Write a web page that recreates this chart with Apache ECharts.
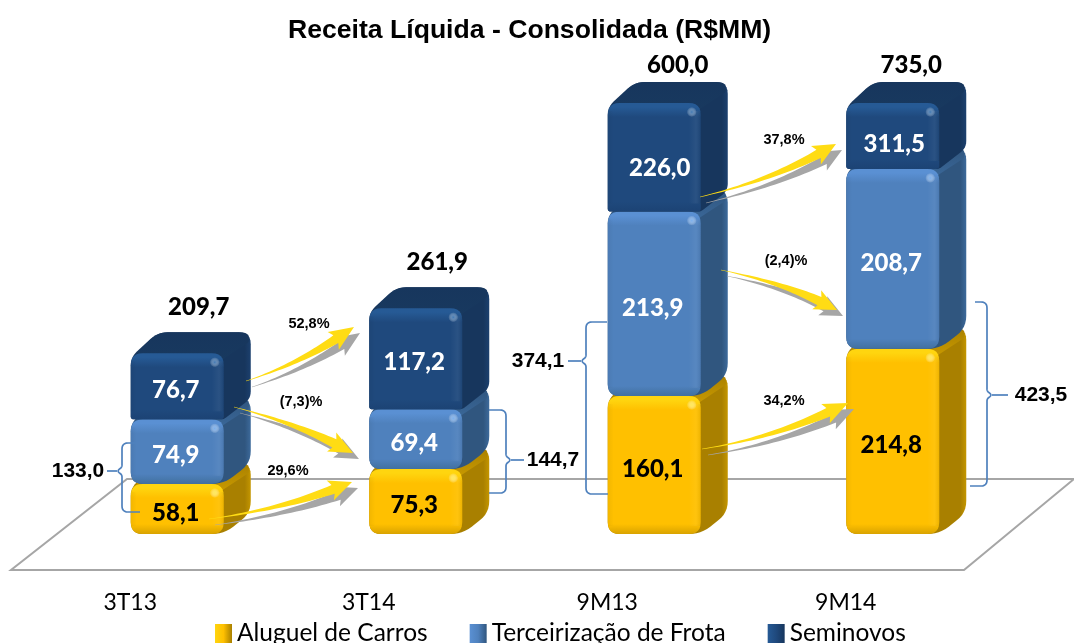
<!DOCTYPE html>
<html>
<head>
<meta charset="utf-8">
<style>html,body{margin:0;padding:0;background:#fff}#c{width:1074px;height:643px}</style>
<script src="https://cdn.jsdelivr.net/npm/echarts@6/dist/echarts.min.js"></script>
</head>
<body>
<div id="c"></div>
<script>
var categories = ['3T13', '3T14', '9M13', '9M14'];
var aluguel = [58.1, 75.3, 160.1, 214.8];
var terceirizacao = [74.9, 69.4, 213.9, 208.7];
var seminovos = [76.7, 117.2, 226.0, 311.5];
var totals = [209.7, 261.9, 600.0, 735.0];
var seriesNames = ['Aluguel de Carros', 'Terceirização de Frota', 'Seminovos'];
var growthLabels = ['52,8%', '(7,3)%', '29,6%', '37,8%', '(2,4)%', '34,2%'];
var sideTotals = ['133,0', '144,7', '374,1', '423,5'];
var titleText = 'Receita Líquida - Consolidada (R$MM)';

var AXIS_MAX = 500;
var DEPTH_X = 27, DEPTH_Y = 21, FRONT_RATIO = 0.39;
var palettes = [
  {base:'#FFC000', hi:'#FFD50F', lo:'#D9A300', side:'#A98000', rim:'#C49600', top:'#C99A00', spot:'#FFEA55', text:'#000', bottomR:12},
  {base:'#4F81BD', hi:'#5A90D3', lo:'#41709F', side:'#30567F', rim:'#3D6A9B', top:'#3A6798', spot:'#78AEEE', text:'#fff', bottomR:12},
  {base:'#1F497D', hi:'#265A95', lo:'#1C4374', side:'#17365D', rim:'#1C406E', top:'#18395F', spot:'#3D76B2', text:'#fff', bottomR:3}
];
var clippedLabelShift = {2:[7, 7], 3:[3, 4]};
var totalShift = [0, 0, 2, -3];
var fmt = function (v) { return v.toFixed(1).replace('.', ','); };

function roundPoly(pts, radii) {
  var out = [], n = pts.length;
  for (var i = 0; i < n; i++) {
    var p = pts[i], a = pts[(i + n - 1) % n], b = pts[(i + 1) % n];
    var r = Array.isArray(radii) ? radii[i] : radii;
    var la = Math.hypot(a[0] - p[0], a[1] - p[1]), lb = Math.hypot(b[0] - p[0], b[1] - p[1]);
    var ra = Math.min(r, la / 2), rb = Math.min(r, lb / 2);
    var s = [p[0] + (a[0] - p[0]) * ra / la, p[1] + (a[1] - p[1]) * ra / la];
    var e = [p[0] + (b[0] - p[0]) * rb / lb, p[1] + (b[1] - p[1]) * rb / lb];
    for (var k = 0; k <= 6; k++) {
      var t = k / 6, u = 1 - t;
      out.push([u * u * s[0] + 2 * u * t * p[0] + t * t * e[0], u * u * s[1] + 2 * u * t * p[1] + t * t * e[1]]);
    }
  }
  return out;
}
function grad(x2, y2, stops) {
  return {type:'linear', x:0, y:0, x2:x2, y2:y2, colorStops:stops.map(function (s) { return {offset:s[0], color:s[1]}; })};
}
function blockRenderer(pal) {
  return function (params, api) {
    var i = api.value(0), lo = api.value(1), hi = Math.min(api.value(2), AXIS_MAX), val = api.value(3), total = api.value(4);
    var bottom = api.coord([i, lo]), top = api.coord([i, hi]);
    var w = api.size([1, 0])[0] * FRONT_RATIO;
    var x0 = bottom[0] + 0.5, x1 = x0 + w, yb = bottom[1], yt = top[1], h = yb - yt;
    var d = DEPTH_X, dy = DEPTH_Y, br = pal.bottomR;
    var kids = [];
    var sil = roundPoly([[x0, yt + 4], [x0 + d, yt - dy], [x1 + d, yt - dy], [x1 + d, yb - dy], [x1, yb], [x0, yb]], [8, 10, 12, Math.max(br, 7), br, br]);
    kids.push({type:'polygon', shape:{points:sil}, style:{fill:grad(1, 0, [[0, pal.side], [0.95, pal.side], [1, pal.rim]]), stroke:'none'}});
    kids.push({type:'polygon', shape:{points:roundPoly([[x0, yt + 6], [x0 + d, yt - dy], [x1 + d - 2, yt - dy], [x1 + d - 2, yt - dy + 10], [x1 - 4, yt + 8]], [5, 10, 10, 2, 2])},
      style:{fill:grad(0, 1, [[0, pal.side], [1, pal.top]])}});
    var t1 = Math.min(0.45, 4 / h), t2 = Math.min(0.48, 14 / h), t3 = Math.max(0.52, 1 - 10 / h);
    var front = roundPoly([[x0, yt], [x1, yt], [x1, yb], [x0, yb]], [12, 12, br, br]);
    kids.push({type:'polygon', shape:{points:front}, style:{fill:grad(0, 1, [[0, pal.hi], [t1, pal.hi], [t2, pal.base], [t3, pal.base], [1, pal.lo]])}});
    kids.push({type:'rect', shape:{x:x1 - 12, y:yt + 8, width:12, height:Math.max(0, h - 16)}, style:{fill:grad(1, 0, [[0, 'rgba(255,255,255,0)'], [0.6, 'rgba(255,255,255,0.05)'], [1, 'rgba(0,0,0,0.07)']])}});
    kids.push({type:'rect', shape:{x:x0, y:yt + 8, width:6, height:Math.max(0, h - 16)}, style:{fill:grad(1, 0, [[0, 'rgba(0,0,0,0.05)'], [1, 'rgba(0,0,0,0)']])}});
    kids.push({type:'circle', shape:{cx:x1 - 9, cy:yt + 9, r:5}, style:{fill:{type:'radial', x:0.5, y:0.5, r:0.5, colorStops:[{offset:0, color:pal.spot}, {offset:1, color:'rgba(255,255,255,0)'}]}}});
    var shift = (api.value(2) > AXIS_MAX && clippedLabelShift[i]) || [0, 0];
    kids.push({type:'text', style:{x:(x0 + x1) / 2 - 1.5 + shift[0], y:(yt + yb) / 2 + 4 + shift[1], text:fmt(val), fill:pal.text, font:'900 24px Lato', textAlign:'center', textVerticalAlign:'middle'}});
    if (total) {
      var clipped = total > AXIS_MAX;
      kids.push({type:'text', style:{x:x0 + 68 + totalShift[i], y:yt - dy - (clipped ? 17 : 25), text:fmt(total), fill:'#000', font:'900 24px Lato', textAlign:'center', textVerticalAlign:'middle'}});
    }
    return {type:'group', children:kids};
  };
}
function stackData(k) {
  var stacks = [aluguel, terceirizacao, seminovos];
  return categories.map(function (c, i) {
    var base = 0;
    for (var j = 0; j < k; j++) base += stacks[j][i];
    return [i, base, base + stacks[k][i], stacks[k][i], k === 2 ? totals[i] : 0];
  });
}
function floorRenderer(params, api) {
  var a = api.coord([0, 0]);
  var L = 11, R = 964, F = a[1] + 36, B = a[1] - 55;
  return {type:'polygon', shape:{points:[[L, F], [R, F], [R + 110, B], [L + 116, B]]}, style:{fill:'none', stroke:'#A6A6A6', lineWidth:2}};
}
function arrow(p0, c, p1, fill, off) {
  var L = 22, HW = 10.5, SW = 4.4, q = function (t, k) { var u = 1 - t; return u * u * p0[k] + 2 * u * t * c[k] + t * t * p1[k]; };
  var len = Math.hypot(p1[0] - p0[0], p1[1] - p0[1]), tb = 1 - L / len;
  var left = [], right = [], N = 24;
  for (var i = 0; i <= N; i++) {
    var t = tb * i / N, x = q(t, 0), y = q(t, 1);
    var dx = 2 * (1 - t) * (c[0] - p0[0]) + 2 * t * (p1[0] - c[0]), dy = 2 * (1 - t) * (c[1] - p0[1]) + 2 * t * (p1[1] - c[1]);
    var m = Math.hypot(dx, dy), nx = -dy / m, ny = dx / m, w = 0.2 + SW * Math.pow(i / N, 1.3);
    left.push([x + nx * w + off[0], y + ny * w + off[1]]);
    right.unshift([x - nx * w + off[0], y - ny * w + off[1]]);
    if (i === N) {
      var bx = x + off[0], by = y + off[1], ux = dx / m, uy = dy / m;
      left.push([bx + nx * HW - ux * 3, by + ny * HW - uy * 3]);
      left.push([p1[0] + off[0], p1[1] + off[1]]);
      left.push([bx - nx * HW - ux * 3, by - ny * HW - uy * 3]);
    }
  }
  return {type:'polygon', z:100, shape:{points:left.concat(right)}, style:{fill:fill}};
}
function brace(xTop, yTop, xSpine, yMid, xTip, yBot, xBot) {
  var s = xTip < xSpine ? -1 : 1;
  var pts = roundPoly([[xTop, yTop], [xSpine, yTop], [xSpine, yMid - 4], [xSpine + s * 5, yMid], [xSpine, yMid + 4], [xSpine, yBot], [xBot, yBot]], [0, 6, 2, 3, 2, 6, 0]).slice(3, -3);
  return [
    {type:'polyline', z:100, shape:{points:pts}, style:{stroke:'#4F81BD', lineWidth:1.7, fill:'none'}},
    {type:'line', z:100, shape:{x1:xSpine + s * 5, y1:yMid, x2:xTip, y2:yMid}, style:{stroke:'#4F81BD', lineWidth:1.7}}
  ];
}
function label(txt, x, y, size) {
  return {type:'text', z:101, style:{x:x, y:y, text:txt, fill:'#000', font:'bold ' + size + 'px "Liberation Sans"', textAlign:'center', textVerticalAlign:'middle'}};
}
var YEL = '#FFDC14', GRY = '#A6A6A6', SH = [6, 6];
var arrowGeom = [
  [[246, 381], [305, 362], [354, 327]],
  [[234, 407], [300, 424], [353, 453]],
  [[209, 519], [290, 508], [352, 482]],
  [[700, 197], [780, 178], [836, 144]],
  [[721, 270], [790, 284], [837, 310]],
  [[702, 449], [780, 437], [848, 403]]
];
var growthPos = [[309, 324], [301, 402], [288, 471], [784, 140], [786, 261], [784, 401]];
var braceGeom = [
  [136, 443, 122, 471, 107, 512, 140],
  [489, 410, 506, 460, 524, 493, 489],
  [607, 322, 586, 361, 568, 494, 608],
  [975, 302, 987, 395, 1008, 486, 970]
];
var sidePos = [[78, 471], [553, 460], [538, 361], [1041, 395]];

var graphics = [];
arrowGeom.forEach(function (g, i) {
  graphics.push(arrow(g[0], g[1], g[2], GRY, SH));
  graphics.push(arrow(g[0], g[1], g[2], YEL, [0, 0]));
  graphics.push(label(growthLabels[i], growthPos[i][0], growthPos[i][1], 14.5));
});
braceGeom.forEach(function (b, i) {
  graphics = graphics.concat(brace.apply(null, b));
  graphics.push(label(sideTotals[i], sidePos[i][0], sidePos[i][1], 21));
});

var legendIcon = function (a, b, c) { return grad(1, 0, [[0, a], [0.5, b], [1, c]]); };
var series = [{
  type:'custom', name:'floor', z:1, silent:true, renderItem:floorRenderer, data:[[0, 0]], encode:{x:0, y:1}
}];
seriesNames.forEach(function (n, k) {
  var pal = palettes[k];
  series.push({
    type:'custom', name:n, z:5 + k, renderItem:blockRenderer(pal), data:stackData(k),
    encode:{x:0, y:[1, 2]}, itemStyle:{color:legendIcon(pal.hi, pal.base, pal.side)}, clip:false, silent:true
  });
});
var chart = echarts.init(document.getElementById('c'), null, {renderer:'canvas'});
chart.setOption({
  animation:false,
  backgroundColor:'#fff',
  title:{text:titleText, left:283, top:12, textStyle:{fontFamily:'Liberation Sans', fontWeight:'bold', fontSize:26.6, color:'#000'}},
  grid:{left:11, right:109, top:103, bottom:109},
  xAxis:{type:'category', data:categories, axisLine:{show:false}, axisTick:{show:false},
    axisLabel:{margin:57, fontFamily:'Lato', fontSize:23, color:'#000'}},
  yAxis:{type:'value', min:0, max:AXIS_MAX, show:false, splitLine:{show:false}},
  legend:{data:seriesNames, left:215, top:621, padding:0, icon:'rect', itemWidth:17, itemHeight:19, itemGap:42, selectedMode:false,
    textStyle:{fontFamily:'Lato', fontSize:24.5, color:'#000', padding:[0, 0, 0, 0]}},
  series:series,
  graphic:{elements:graphics}
});
</script>
</body>
</html>
